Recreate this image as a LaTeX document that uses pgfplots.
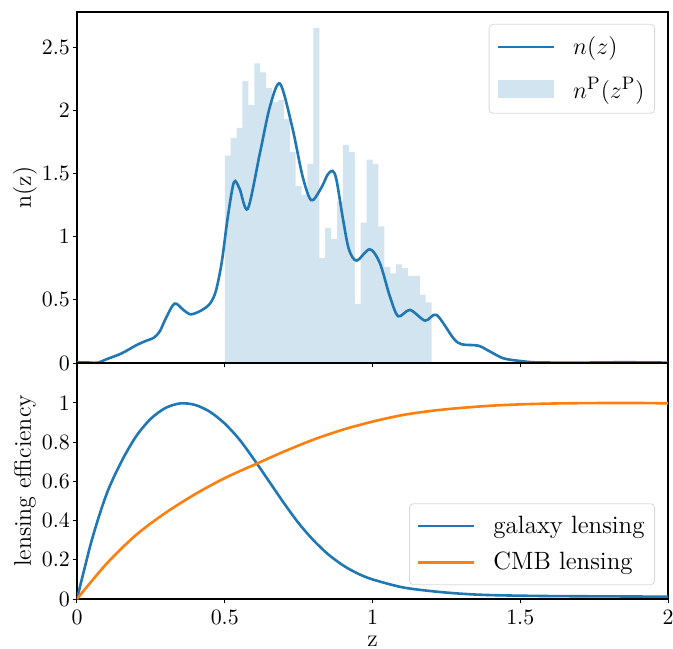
\documentclass[border=0pt]{standalone}
\usepackage{pgfplots}
\pgfplotsset{compat=1.18}
\definecolor{cblue}{HTML}{1F77B4}
\definecolor{corange}{HTML}{FF7F0E}
\definecolor{chist}{RGB}{210,228,240}
\begin{document}
\begin{tikzpicture}
\pgfplotsset{
  common/.style={
    scale only axis, width=295.5pt,
    xmin=0, xmax=2, ymin=0,
    axis line style={line width=0.6pt},
    tick pos=left,
    tick align=outside, major tick length=2.2pt,
    tick style={black, line width=0.5pt},
    xtick={0,0.5,1,1.5,2},
    tick label style={font=\fontsize{11}{13}\selectfont},
    yticklabel style={inner xsep=1.2pt},
    label style={font=\fontsize{12}{14}\selectfont},
    legend cell align=left,
    legend style={draw=black!15, rounded corners=2pt, font=\fontsize{12.5}{15}\selectfont,
      inner xsep=3pt, inner ysep=4pt},
  }
}
\begin{axis}[common, at={(0,118pt)}, anchor=south west, height=175.5pt,
  ymax=2.777, ytick={0,0.5,1,1.5,2,2.5}, xticklabels={},
  ylabel={n(z)}, ylabel style={at={(axis description cs:-0.088,0.5)}, anchor=center},
  legend style={at={(axis description cs:0.978,0.966)}, anchor=north east, row sep=6pt},
]
\addplot[ybar interval, fill=chist, draw=none, forget plot] coordinates {
(0.50,1.64) (0.52,1.78) (0.54,1.86) (0.56,2.23) (0.58,2.04) (0.60,2.37) (0.62,2.30)
(0.64,2.175) (0.66,2.065) (0.68,2.08) (0.70,1.93) (0.72,1.67) (0.74,1.40) (0.76,1.33)
(0.78,1.575) (0.80,2.65) (0.82,0.83) (0.84,1.07) (0.86,0.98) (0.88,1.28) (0.90,1.725)
(0.92,1.67) (0.94,0.467) (0.96,1.11) (0.98,1.61) (1.00,1.575) (1.02,1.08) (1.04,0.76)
(1.06,0.71) (1.08,0.78) (1.10,0.75) (1.12,0.69) (1.14,0.69) (1.16,0.54) (1.18,0.48) (1.20,0.48)};
\addplot[cblue, line width=1.3pt, smooth, tension=0.5,
  legend image code/.code={\draw[cblue, line width=1.3pt] (0pt,0pt) -- (28pt,0pt); \path[draw=none, fill=none] (-1.5pt,0pt) -- (35.5pt,0pt);}] coordinates {
(0,0.006) (0.04,0.004) (0.07,0.002) (0.10,0.03) (0.15,0.075) (0.20,0.14) (0.23,0.172)
(0.26,0.2) (0.28,0.25) (0.30,0.35) (0.33,0.47) (0.36,0.42) (0.385,0.385) (0.42,0.415)
(0.45,0.47) (0.47,0.57) (0.49,0.8) (0.51,1.15) (0.531,1.43) (0.55,1.38) (0.578,1.22)
(0.619,1.66) (0.653,2.03) (0.687,2.21) (0.728,1.87) (0.761,1.50) (0.784,1.32) (0.80,1.29)
(0.83,1.40) (0.848,1.49) (0.865,1.52) (0.878,1.45) (0.90,1.14)
(0.92,0.90) (0.946,0.81) (0.991,0.90) (1.025,0.79) (1.059,0.525) (1.087,0.37) (1.127,0.42)
(1.178,0.335) (1.217,0.38) (1.274,0.195) (1.302,0.148) (1.358,0.137) (1.398,0.09)
(1.443,0.037) (1.50,0.016) (1.556,0.005) (1.7,0.003) (1.85,0.006) (2.0,0.003)};
\addlegendentry{$n(z)$}
\addlegendimage{legend image code/.code={\fill[chist, draw=none, sharp corners] (0pt,-4.5pt) rectangle (28pt,4.5pt); \path[draw=none, fill=none] (-1.5pt,0pt) -- (35.5pt,0pt);}}
\addlegendentry{$n^{\mathrm{P}}(z^{\mathrm{P}})$}
\end{axis}
\begin{axis}[common, at={(0,0)}, anchor=south west, height=118pt,
  ymax=1.204, ytick={0,0.2,0.4,0.6,0.8,1},
  ylabel={lensing efficiency}, ylabel style={at={(axis description cs:-0.088,0.5)}, anchor=center},
  xlabel={z}, xlabel style={at={(axis description cs:0.5,-0.178)}, anchor=center},
  legend style={at={(axis description cs:0.978,0.059)}, anchor=south east, row sep=4pt},
  legend image code/.code={\draw[#1] (0pt,0pt) -- (28pt,0pt); \path[draw=none, fill=none] (-1.5pt,0pt) -- (35.5pt,0pt);},
]
\addplot[cblue, line width=1.3pt, smooth, tension=0.5] coordinates {
(0,0) (0.05,0.30) (0.1,0.535) (0.15,0.70) (0.2,0.83) (0.25,0.92) (0.3,0.975) (0.35,0.998)
(0.4,0.99) (0.45,0.955) (0.5,0.895) (0.55,0.813) (0.6,0.71) (0.65,0.60) (0.7,0.49)
(0.75,0.387) (0.8,0.30) (0.85,0.228) (0.9,0.172) (0.95,0.13) (1.0,0.10) (1.1,0.06)
(1.2,0.04) (1.3,0.027) (1.4,0.02) (1.6,0.015) (2.0,0.012)};
\addlegendentry{galaxy lensing}
\addplot[corange, line width=1.3pt, smooth, tension=0.5] coordinates {
(0,0) (0.1,0.18) (0.2,0.327) (0.3,0.44) (0.4,0.535) (0.5,0.617) (0.6,0.685) (0.7,0.752)
(0.8,0.813) (0.9,0.864) (1.0,0.905) (1.1,0.938) (1.2,0.96) (1.3,0.975) (1.4,0.986)
(1.5,0.993) (1.6,0.997) (1.7,0.999) (1.8,1.0) (1.9,1.0) (2.0,0.998)};
\addlegendentry{CMB lensing}
\end{axis}
\pgfresetboundingbox
\path[use as bounding box] (-38.5pt,-24.5pt) rectangle (298pt,299.5pt);
\end{tikzpicture}
\end{document}
